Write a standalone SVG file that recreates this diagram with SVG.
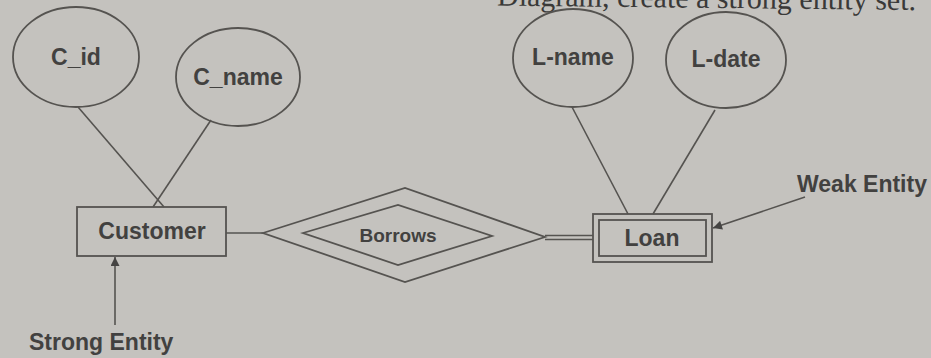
<svg xmlns="http://www.w3.org/2000/svg" width="931" height="358" viewBox="0 0 931 358">
  <defs>
    <style>
      .shape { fill: none; stroke: #555350; stroke-width: 1.8; }
      .conn { fill: none; stroke: #555350; stroke-width: 1.6; }
      .lbl { font-family: "Liberation Sans", Arial, sans-serif; font-weight: bold; font-size: 23px; fill: #424140; text-anchor: middle; }
      .small { font-size: 19px; }
      .cap { font-family: "Liberation Sans", Arial, sans-serif; font-weight: bold; font-size: 23px; fill: #424140; }
      .top { font-family: "Liberation Serif", "Times New Roman", serif; font-size: 30px; fill: #3a3938; text-anchor: end; }
    </style>
    <marker id="arr" viewBox="0 0 10 10" refX="10" refY="5" markerWidth="10" markerHeight="9" markerUnits="userSpaceOnUse" orient="auto">
      <path d="M0,0 L10,5 L0,10 z" fill="#454443"/>
    </marker>
  </defs>
  <rect width="931" height="358" fill="#c4c2be"/>

  <text class="top" x="916" y="10" transform="rotate(0.6 916 10)">Diagram, create a strong entity set.</text>

  <g id="connectors">
    <line class="conn" x1="78" y1="107" x2="164" y2="207"/>
    <line class="conn" x1="211" y1="120" x2="153" y2="207"/>
    <line class="conn" x1="572" y1="107" x2="628" y2="214"/>
    <line class="conn" x1="715" y1="110" x2="653" y2="214"/>
    <line class="conn" x1="226" y1="233" x2="263" y2="233"/>
    <line class="conn" x1="545" y1="235.5" x2="593" y2="235.5"/>
    <line class="conn" x1="545" y1="239.5" x2="593" y2="239.5"/>
    <line class="conn" x1="115" y1="325" x2="115" y2="257" marker-end="url(#arr)"/>
    <line class="conn" x1="805" y1="197" x2="713" y2="228" marker-end="url(#arr)"/>
  </g>

  <g id="c_id">
    <ellipse class="shape" cx="76" cy="57" rx="63" ry="50"/>
    <text class="lbl" x="76" y="65">C_id</text>
  </g>
  <g id="c_name">
    <ellipse class="shape" cx="238" cy="77" rx="62" ry="49"/>
    <text class="lbl" x="238" y="85">C_name</text>
  </g>
  <g id="l_name">
    <ellipse class="shape" cx="573" cy="58" rx="60" ry="49"/>
    <text class="lbl" x="573" y="65">L-name</text>
  </g>
  <g id="l_date">
    <ellipse class="shape" cx="726" cy="60" rx="60" ry="48"/>
    <text class="lbl" x="726" y="67">L-date</text>
  </g>
  <g id="customer">
    <rect class="shape" x="77" y="207" width="149" height="49"/>
    <text class="lbl" x="152" y="239">Customer</text>
  </g>
  <g id="borrows">
    <polygon class="shape" points="263,233 405,188 545,237 405,282"/>
    <polygon class="shape" points="303,233 398,205 492,236 398,265"/>
    <text class="lbl small" x="398" y="242">Borrows</text>
  </g>
  <g id="loan">
    <rect class="shape" x="593" y="214" width="119" height="48"/>
    <rect class="shape" x="599" y="220" width="107" height="36"/>
    <text class="lbl" x="652" y="246">Loan</text>
  </g>
  <g id="strong_label">
    <text class="cap" x="29" y="350">Strong Entity</text>
  </g>
  <g id="weak_label">
    <text class="cap" x="797" y="192">Weak Entity</text>
  </g>
</svg>
